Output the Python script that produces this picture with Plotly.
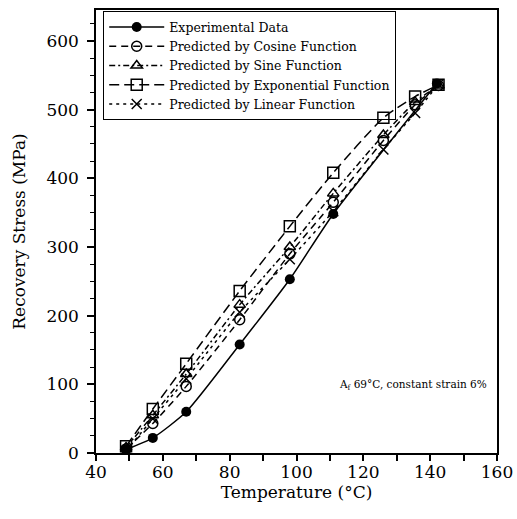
import plotly.graph_objects as go

temps_exp = [49, 57, 67, 83, 98, 111, 142]
exp_vals = [5, 22, 60, 158, 253, 348, 538]

temps_pred = [49, 57, 67, 83, 98, 111, 126, 135.5, 142.5]
cos_vals = [6, 43, 97, 194, 290, 365, 455, 507, 535]
sin_vals = [8, 55, 115, 216, 300, 378, 463, 511, 535]
exp_fn_vals = [10, 64, 130, 236, 330, 408, 488, 519, 536]
lin_vals = [3, 50, 108, 205, 282, 352, 442, 495, 537]

names = ["Experimental Data", "Predicted by Cosine Function", "Predicted by Sine Function",
         "Predicted by Exponential Function", "Predicted by Linear Function"]

FONT = "DejaVu Serif"
fig = go.Figure()

fig.add_trace(go.Scatter(x=temps_exp, y=exp_vals, name=names[0], mode="lines+markers",
                         line=dict(color="black", width=1.5, shape="spline", smoothing=0.6),
                         marker=dict(symbol="circle", size=10, color="black")))
styles = [
    (cos_vals, "circle-open", "7px,5px", 10),
    (sin_vals, "triangle-up-open", "6px,3px,2px,3px", 10),
    (exp_fn_vals, "square-open", "10px,5px", 11),
    (lin_vals, "x-thin-open", "3px,4px", 10),
]
for (vals, sym, dash, sz), nm in zip(styles, names[1:]):
    fig.add_trace(go.Scatter(x=temps_pred, y=vals, name=nm, mode="lines+markers",
                             line=dict(color="black", width=1.5, dash=dash, shape="spline", smoothing=0.6),
                             marker=dict(symbol=sym, size=sz, color="black",
                                         line=dict(color="black", width=1.5))))

fig.add_annotation(x=157.5, y=99, xref="x", yref="y", xanchor="right", yanchor="middle",
                   text="A<sub>f</sub> 69°C, constant strain 6%", showarrow=False,
                   font=dict(family=FONT, size=10.5, color="black"))

fig.update_layout(
    width=517, height=519,
    margin=dict(l=96, r=20, t=10, b=66, autoexpand=False),
    paper_bgcolor="white", plot_bgcolor="white",
    font=dict(family=FONT, color="black"),
    showlegend=True,
    legend=dict(x=0.018, y=0.997, xanchor="left", yanchor="top",
                bordercolor="black", borderwidth=1, bgcolor="rgba(255,255,255,0)",
                font=dict(family=FONT, size=12.5, color="black"),
                itemwidth=55, tracegroupgap=0),
    xaxis=dict(range=[40, 160], tickvals=[40, 60, 80, 100, 120, 140, 160],
               ticks="outside", ticklen=6, tickwidth=1.5, tickcolor="black",
               minor=dict(dtick=10, tick0=40, ticks="outside", ticklen=6, tickwidth=1.5, tickcolor="black"),
               showline=True, linecolor="black", linewidth=1.5, mirror=True,
               showgrid=False, zeroline=False, automargin=False,
               ticklabelstandoff=-3,
               tickfont=dict(family=FONT, size=17),
               title=dict(text="Temperature (°C)", font=dict(family=FONT, size=17), standoff=0)),
    yaxis=dict(range=[0, 645], tickvals=[0, 100, 200, 300, 400, 500, 600],
               ticks="outside", ticklen=7, tickwidth=1.5, tickcolor="black",
               minor=dict(dtick=25, tick0=0, ticks="outside", ticklen=4, tickwidth=1.2, tickcolor="black"),
               showline=True, linecolor="black", linewidth=1.5, mirror=True,
               showgrid=False, zeroline=False, automargin=False,
               ticklabelstandoff=5,
               tickfont=dict(family=FONT, size=17),
               title=dict(text="Recovery Stress (MPa)", font=dict(family=FONT, size=17), standoff=16)),
)

fig.write_html("out.html", config={"displayModeBar": False},
               post_script="document.body.style.margin='0';document.body.style.overflow='hidden';")
